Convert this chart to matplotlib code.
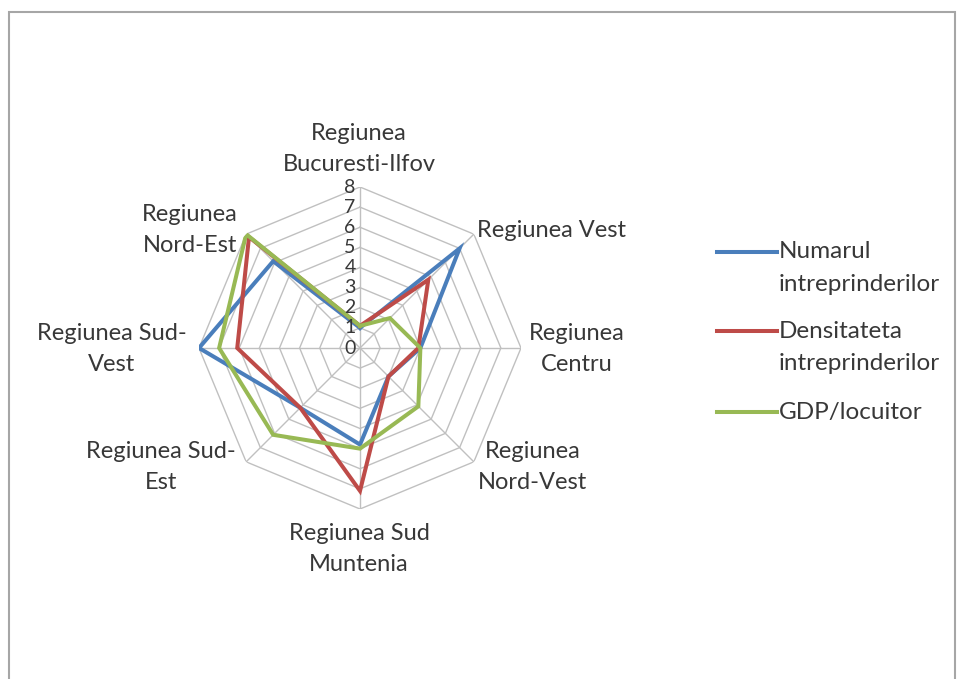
import numpy as np
import matplotlib
matplotlib.use("Agg")
import matplotlib.pyplot as plt
from matplotlib.lines import Line2D
from matplotlib.patches import Rectangle

categories = ["Regiunea\nBucuresti-Ilfov", "Regiunea Vest", "Regiunea\nCentru",
              "Regiunea\nNord-Vest", "Regiunea Sud\nMuntenia", "Regiunea Sud-\nEst",
              "Regiunea Sud-\nVest", "Regiunea\nNord-Est"]
series_names = ["Numarul\nintreprinderilor", "Densitateta\nintreprinderilor", "GDP/locuitor"]
numarul = [1.0, 7.0, 3.0, 2.0, 4.8, 4.2, 8.0, 6.1]
densitatea = [1.1, 4.8, 2.9, 2.0, 7.1, 4.2, 6.1, 7.8]
gdp = [1.1, 2.1, 3.0, 4.1, 5.0, 6.1, 7.0, 8.0]
ticks = [0, 1, 2, 3, 4, 5, 6, 7, 8]

colors = ["#4A7EBB", "#BE4B48", "#98B954"]
text_color = "#383838"
plt.rcParams['font.family'] = ['Lato', 'DejaVu Sans']

W, H = 962, 679
fig = plt.figure(figsize=(W / 100, H / 100), dpi=100)
fig.patch.set_facecolor("white")

# outer frame
fig.add_artist(Rectangle((9 / W, -0.05), (955 - 9) / W, (667 / H) + 0.05,
                         transform=fig.transFigure, fill=False,
                         edgecolor="#A6A6A6", linewidth=1.5))

cx, cy, R = 360, 348, 161
ax = fig.add_axes([(cx - R) / W, (H - cy - R) / H, 2 * R / W, 2 * R / H],
                  projection="polar")
ax.set_theta_zero_location("N")
ax.set_theta_direction(-1)
ax.set_ylim(0, 8)
ax.grid(False)
ax.spines["polar"].set_visible(False)
ax.set_xticks([])
ax.set_yticks([])
ax.patch.set_alpha(0)

n = len(categories)
angles = np.arange(n) * 2 * np.pi / n
closed = np.append(angles, angles[0])

for t in ticks[1:]:
    ax.plot(closed, [t] * (n + 1), color="#C0C0C0", lw=1.0, zorder=1)
for a in angles:
    ax.plot([a, a], [0, ticks[-1]], color="#C0C0C0", lw=1.0, zorder=1)

for vals, c in zip([numarul, densitatea, gdp], colors):
    ax.plot(closed, list(vals) + [vals[0]], color=c, lw=2.9, zorder=3,
            solid_joinstyle="miter")

# radial tick labels
for t in ticks:
    ax.annotate(str(t), xy=(0, t), xytext=(-10, 0), textcoords="offset pixels",
                ha="center", va="center", fontsize=14, color=text_color, zorder=4)

# category labels: offsets (pixels) of the label block centre from the outer vertex
label_offsets = [(-1, 38), (78, 4), (56, -1), (59, -5), (-1, -40),
                 (-85, -5), (-87, -1), (-56, 4)]
for ang, lab, off in zip(angles, categories, label_offsets):
    ax.annotate(lab, xy=(ang, ticks[-1]), xytext=off,
                textcoords="offset pixels", ha="center", va="center",
                fontsize=17, color=text_color, linespacing=1.62,
                annotation_clip=False)

# legend (manual)
leg_y = [252, 331, 412]
for name, c, y in zip(series_names, colors, leg_y):
    fig.add_artist(Line2D([717 / W, 777 / W], [(H - y) / H] * 2, color=c, lw=2.9,
                          transform=fig.transFigure))
    fig.text(779 / W, (H - y) / H, name.split("\n")[0], ha="left", va="center",
             fontsize=17.5, color=text_color)
    if "\n" in name:
        fig.text(779 / W, (H - y - 33) / H, name.split("\n")[1], ha="left",
                 va="center", fontsize=17.5, color=text_color)

fig.savefig("out.png", dpi=100, facecolor="white")
